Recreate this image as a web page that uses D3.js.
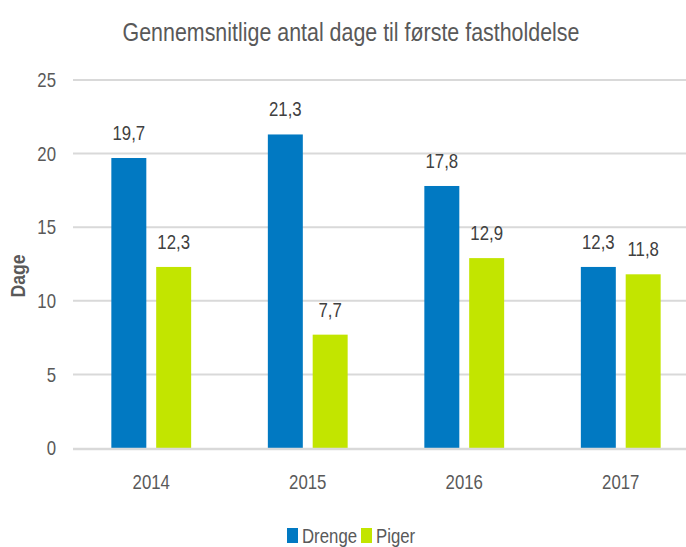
<!DOCTYPE html>
<html>
<head>
<meta charset="utf-8">
<script src="https://cdn.jsdelivr.net/npm/d3@7"></script>
<style>
  body { margin: 0; background: #fff; }
  text { font-family: "Liberation Sans", Arial, sans-serif; }
</style>
</head>
<body>
<svg width="686" height="547"></svg>
<script>
const years = ["2014", "2015", "2016", "2017"];
const drenge = [19.7, 21.3, 17.8, 12.3];
const piger = [12.3, 7.7, 12.9, 11.8];
const seriesNames = ["Drenge", "Piger"];
const colors = ["#0179c2", "#c2e500"];
const yTicks = [0, 5, 10, 15, 20, 25];

const svg = d3.select("svg");
const margin = { top: 80, left: 73 };
const plotRight = 699;
const plotBottom = 448;
const squeeze = 0.84; // the original font is a narrow one

// place text with a horizontal squeeze
const at = (x, y) => `translate(${x}, ${y}) scale(${squeeze}, 1)`;

const data = years.map((y, i) => ({ year: y, values: [drenge[i], piger[i]] }));

const xScale = d3.scaleBand()
  .domain(years)
  .range([margin.left, plotRight])
  .paddingInner(0.49)
  .paddingOuter(0.245);

const xInner = d3.scaleBand()
  .domain(seriesNames)
  .range([0, xScale.bandwidth()])
  .paddingInner(0.22);

const yScale = d3.scaleLinear()
  .domain([0, 25])
  .range([plotBottom, margin.top]);

// title
svg.append("text")
  .attr("transform", at(351, 41))
  .attr("text-anchor", "middle")
  .attr("fill", "#595959")
  .style("font-size", "25.5px")
  .text("Gennemsnitlige antal dage til første fastholdelse");

// gridlines
svg.append("g").selectAll("line").data(yTicks.filter(d => d > 0))
  .enter().append("line")
    .attr("x1", margin.left)
    .attr("x2", plotRight)
    .attr("y1", d => yScale(d))
    .attr("y2", d => yScale(d))
    .attr("stroke", "#d9d9d9")
    .attr("stroke-width", 2);

// y tick labels
svg.append("g").selectAll("text").data(yTicks)
  .enter().append("text")
    .attr("transform", d => at(56, yScale(d)))
    .attr("dy", "0.36em")
    .attr("text-anchor", "end")
    .attr("fill", "#595959")
    .style("font-size", "20px")
    .text(d => d);

// y axis title
svg.append("text")
  .attr("transform", `translate(25, ${(margin.top + plotBottom) / 2 + 12}) rotate(-90) scale(${squeeze}, 1)`)
  .attr("text-anchor", "middle")
  .attr("fill", "#595959")
  .style("font-size", "21px")
  .style("font-weight", "bold")
  .text("Dage");

// bars
const groups = svg.append("g").selectAll("g").data(data)
  .enter().append("g")
    .attr("transform", d => `translate(${xScale(d.year)}, 0)`);

groups.selectAll("rect").data(d => d.values.map((v, i) => ({ name: seriesNames[i], value: v, i })))
  .enter().append("rect")
    .attr("x", d => xInner(d.name))
    .attr("y", d => yScale(d.value))
    .attr("width", xInner.bandwidth())
    .attr("height", d => plotBottom - yScale(d.value))
    .attr("fill", d => colors[d.i]);

groups.selectAll("text.val").data(d => d.values.map((v, i) => ({ name: seriesNames[i], value: v })))
  .enter().append("text")
    .attr("class", "val")
    .attr("transform", d => at(xInner(d.name) + xInner.bandwidth() / 2, yScale(d.value) - 18))
    .attr("text-anchor", "middle")
    .attr("fill", "#404040")
    .style("font-size", "20px")
    .text(d => d3.format(".1f")(d.value).replace(".", ","));

// x axis line
svg.append("line")
  .attr("x1", margin.left)
  .attr("x2", plotRight)
  .attr("y1", plotBottom + 1)
  .attr("y2", plotBottom + 1)
  .attr("stroke", "#d9d9d9")
  .attr("stroke-width", 2.5);

// x labels
svg.append("g").selectAll("text").data(years)
  .enter().append("text")
    .attr("transform", d => at(xScale(d) + xScale.bandwidth() / 2, 489))
    .attr("text-anchor", "middle")
    .attr("fill", "#595959")
    .style("font-size", "20px")
    .text(d => d);

// legend
const legendX = [287, 361];
const legend = svg.append("g").selectAll("g").data(seriesNames)
  .enter().append("g")
    .attr("transform", (d, i) => `translate(${legendX[i]}, 528)`);
legend.append("rect")
  .attr("width", 11)
  .attr("height", 15)
  .attr("fill", (d, i) => colors[i]);
legend.append("text")
  .attr("transform", at(15, 15))
  .attr("fill", "#595959")
  .style("font-size", "20px")
  .text(d => d);
</script>
</body>
</html>
